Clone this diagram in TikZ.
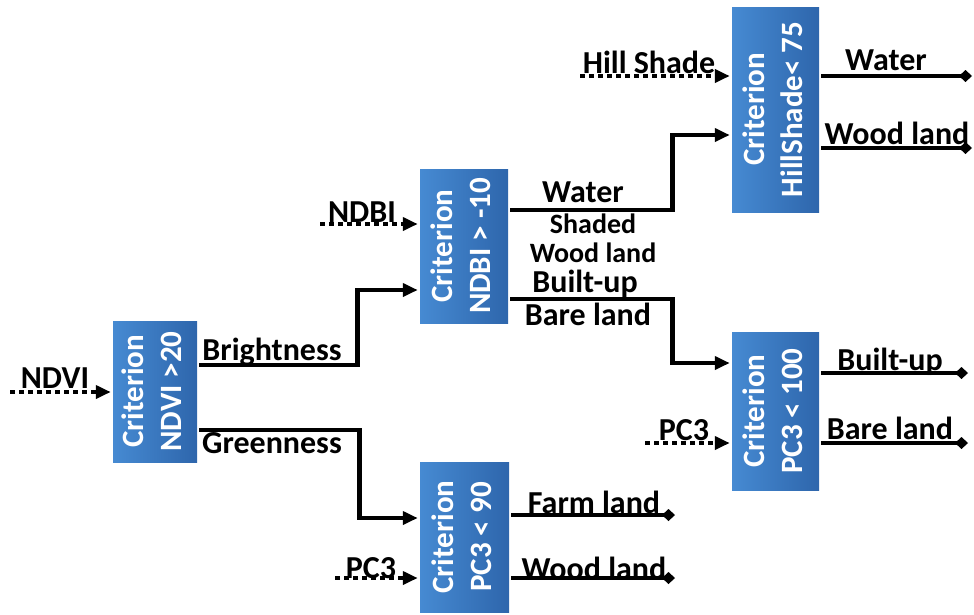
\documentclass[tikz,border=0pt]{standalone}
\usepackage{fontspec}
\setmainfont{Carlito}
\usetikzlibrary{arrows.meta}
\definecolor{critlight}{RGB}{70,138,210}
\definecolor{critdark}{RGB}{46,102,172}
\newcommand\critlabel[1]{\rotatebox{90}{\begin{tabular}{@{}c@{}}Criterion\\#1\end{tabular}}}

\begin{document}
\begin{tikzpicture}[x=1pt,y=-1pt,line width=4.5pt,
  crit/.style={rectangle,inner sep=0pt,left color=critlight,right color=critdark,
    text=white,font=\bfseries\fontsize{31}{38}\selectfont},
  lbl/.style={inner sep=0pt,font=\bfseries\fontsize{32}{32}\selectfont},
  flow/.style={-{Triangle[length=15pt,width=13pt]}},
  inp/.style={dash pattern=on 5pt off 4pt,-{Triangle[length=15pt,width=13pt]}},
  outl/.style={-{Diamond[length=13pt,width=12pt]}}]
  \useasboundingbox (0,0) rectangle (974,614);
  % criterion boxes
  \node[crit,minimum width=84,minimum height=141] (ndvi) at (155,391.5) {\critlabel{NDVI >20}};
  \node[crit,minimum width=88,minimum height=154] (ndbi) at (464,246) {\critlabel{NDBI > -10}};
  \node[crit,minimum width=87,minimum height=205] (hill) at (775.5,109.5) {\critlabel{HillShade< 75}};
  \node[crit,minimum width=87,minimum height=158] (pcmax) at (775.5,411) {\critlabel{PC3 < 100}};
  \node[crit,minimum width=89,minimum height=150] (pcnine) at (464.5,537) {\critlabel{PC3 < 90}};
  % inputs (dotted)
  \coordinate (ndviin) at (10,392);
  \coordinate (ndbiin) at (320,224);
  \coordinate (hillin) at (580,76);
  \coordinate (pcmaxin) at (645,443);
  \coordinate (pcninein) at (335,578);
  \draw[inp] (ndviin) -- (ndviin -| ndvi.west);
  \draw[inp] (ndbiin) -- (ndbiin -| ndbi.west);
  \draw[inp] (hillin) -- (hillin -| hill.west);
  \draw[inp] (pcmaxin) -- (pcmaxin -| pcmax.west);
  \draw[inp] (pcninein) -- (pcninein -| pcnine.west);
  % links between boxes
  \draw[flow] ([yshift=26.5pt]ndvi.east) -- ++(158,0) |- ([yshift=-44pt]ndbi.west);
  \draw[flow] ([yshift=-38.5pt]ndvi.east) -- ++(160,0) |- ([yshift=19pt]pcnine.west);
  \draw[flow] ([yshift=36pt]ndbi.east) -- ++(162,0) |- ([yshift=-25.5pt]hill.west);
  \draw[flow] ([yshift=-53pt]ndbi.east) -- ++(162,0) |- ([yshift=48pt]pcmax.west);
  % outputs
  \coordinate (hillwat) at (972,76);
  \coordinate (hillwood) at (972,148);
  \coordinate (pcmaxbuilt) at (968,373);
  \coordinate (pcmaxbare) at (968,443);
  \coordinate (pcninefarm) at (675,515);
  \coordinate (pcninewood) at (675,578);
  \draw[outl] (hillwat -| hill.east) -- (hillwat);
  \draw[outl] (hillwood -| hill.east) -- (hillwood);
  \draw[outl] (pcmaxbuilt -| pcmax.east) -- (pcmaxbuilt);
  \draw[outl] (pcmaxbare -| pcmax.east) -- (pcmaxbare);
  \draw[outl] (pcninefarm -| pcnine.east) -- (pcninefarm);
  \draw[outl] (pcninewood -| pcnine.east) -- (pcninewood);
  % labels
  \node[lbl] (tndvi) at (55,378) {NDVI};
  \node[lbl] (tbright) at (272,352) {Brightness};
  \node[lbl] (tgreen) at (272,443) {Greenness};
  \node[lbl] (tndbi) at (362,212) {NDBI};
  \node[lbl] (twat) at (583,192) {Water};
  \node[lbl,align=center,font=\bfseries\fontsize{28}{29}\selectfont] (tshad) at (593,238) {Shaded\\Wood land};
  \node[lbl] (tbuilt) at (585,284) {Built-up};
  \node[lbl] (tbare) at (588,314) {Bare land};
  \node[lbl] (thill) at (649,62) {Hill Shade};
  \node[lbl] (thwat) at (886,60) {Water};
  \node[lbl] (thwood) at (897,133) {Wood land};
  \node[lbl] (tpbuilt) at (890,362) {Built-up};
  \node[lbl] (tpbare) at (890,428) {Bare land};
  \node[lbl] (tpcmax) at (684,430) {PC3};
  \node[lbl] (tfarm) at (594,502) {Farm land};
  \node[lbl] (tpwood) at (594,568) {Wood land};
  \node[lbl] (tpcnine) at (371,568) {PC3};
\end{tikzpicture}
\end{document}
